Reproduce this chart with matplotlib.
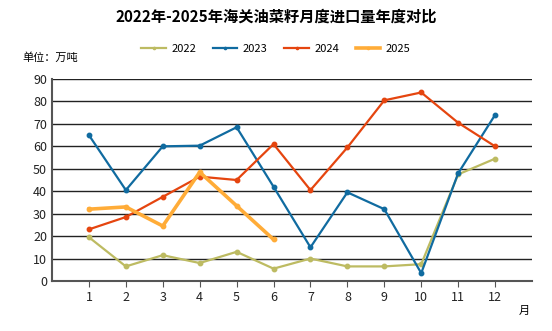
import matplotlib

matplotlib.use("Agg")
import matplotlib.pyplot as plt

plt.rcParams["font.family"] = ["Noto Sans CJK SC", "DejaVu Sans"]

# Monthly rapeseed imports (10k tonnes)
months = list(range(1, 13))
imports_2022 = [19.5, 6.5, 11.5, 8, 13, 5.5, 10, 6.5, 6.5, 7.5, 47.5, 54.5]
imports_2023 = [65, 40.5, 60, 60.3, 68.5, 42, 15, 39.5, 32, 3.5, 48, 74]
imports_2024 = [23, 28.5, 37.5, 46.5, 45, 61, 40.5, 59.5, 80.5, 84, 70.5, 60]
imports_2025 = [32, 33, 24.5, 48.5, 33.5, 18.5]

series = [
    ("2022", imports_2022, "#BDBB62", 1.6),
    ("2023", imports_2023, "#106BA0", 1.6),
    ("2024", imports_2024, "#E5450F", 1.6),
    ("2025", imports_2025, "#FFAC38", 2.6),
]

fig = plt.figure(figsize=(5.52, 3.31), dpi=100)
ax = fig.add_axes([52 / 552, 1 - 281 / 331, 480 / 552, 202 / 331])

for label, vals, color, lw in series:
    ax.plot(months[:len(vals)], vals, color=color, lw=lw, marker="o",
            markersize=3.2, label=label)

ax.set_xlim(0, 13)
ax.set_ylim(0, 90)
ax.set_xticks(months)
ax.set_yticks(range(0, 91, 10))
ax.tick_params(axis="both", labelsize=9, length=0, colors="#222222")
ax.tick_params(axis="x", length=4, color="#555555")
ax.grid(axis="y", color="#222222", lw=1)
ax.set_axisbelow(True)
for side in ("top", "right"):
    ax.spines[side].set_visible(False)
ax.spines["left"].set_color("#555555")
ax.spines["left"].set_linewidth(1.5)
ax.spines["bottom"].set_color("#555555")
ax.spines["bottom"].set_linewidth(1.5)

fig.text(0.5, 1 - 17 / 331, "2022年-2025年海关油菜籽月度进口量年度对比",
         ha="center", va="center", fontsize=11, fontweight="bold")
fig.text(22 / 552, 1 - 58 / 331, "单位：万吨", ha="left", va="center", fontsize=8)
fig.text(524 / 552, 1 - 311 / 331, "月", ha="center", va="center", fontsize=8)

leg = fig.legend(loc="center", bbox_to_anchor=(0.5, 1 - 49 / 331), ncol=4,
                 frameon=False, fontsize=8, handlelength=2.2, columnspacing=1.5,
                 handletextpad=0.5, markerscale=0.5)

fig.savefig("out.png", dpi=100)
